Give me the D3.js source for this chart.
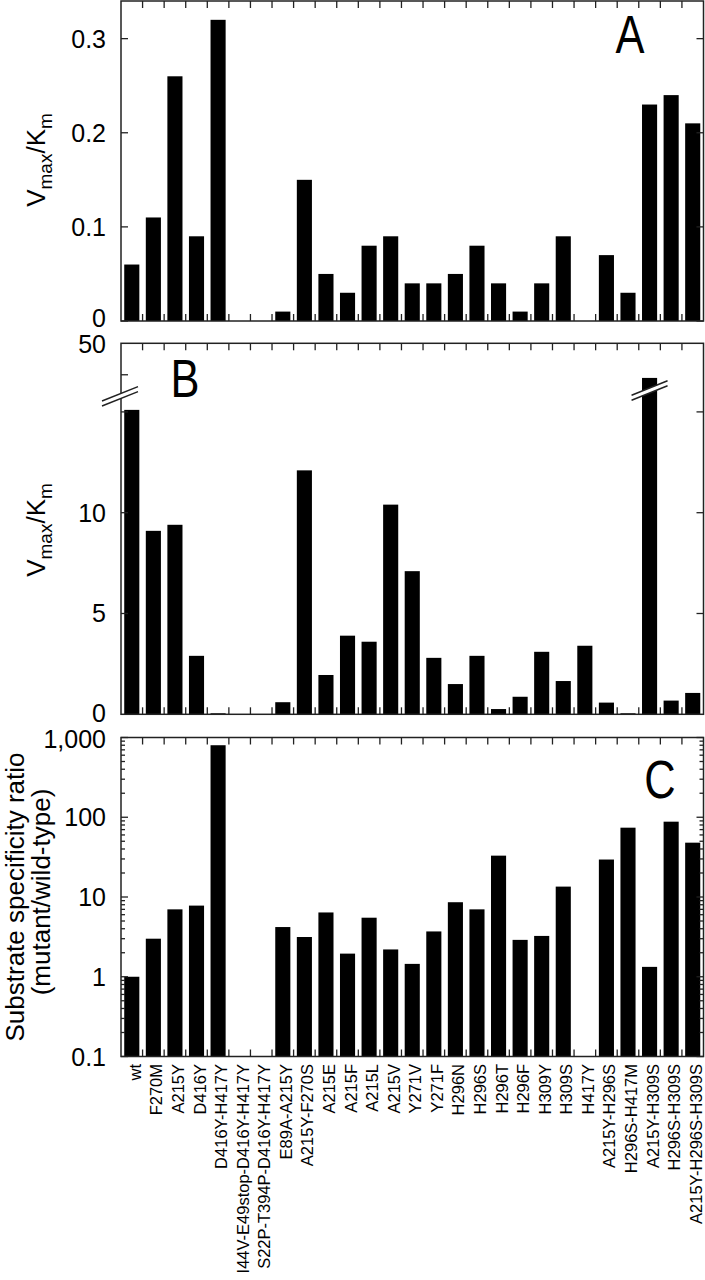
<!DOCTYPE html>
<html>
<head>
<meta charset="utf-8">
<script src="https://cdn.jsdelivr.net/npm/d3@7"></script>
<style>
  html, body { margin: 0; padding: 0; background: #fff; }
  svg { display: block; font-family: "Liberation Sans", Arial, sans-serif; }
</style>
</head>
<body>
<svg id="chart" width="705" height="1280"></svg>
<script>
const categories = ["wt","F270M","A215Y","D416Y","D416Y-H417Y","I44V-E49stop-D416Y-H417Y","S22P-T394P-D416Y-H417Y","E89A-A215Y","A215Y-F270S","A215E","A215F","A215L","A215V","Y271V","Y271F","H296N","H296S","H296T","H296F","H309Y","H309S","H417Y","A215Y-H296S","H296S-H417M","A215Y-H309S","H296S-H309S","A215Y-H296S-H309S"];
const valuesA = [0.06,0.11,0.26,0.09,0.32,null,null,0.01,0.15,0.05,0.03,0.08,0.09,0.04,0.04,0.05,0.08,0.04,0.01,0.04,0.09,null,0.07,0.03,0.23,0.24,0.21];
const valuesB = [15.1,9.1,9.4,2.9,0.05,null,null,0.6,12.1,1.95,3.9,3.6,10.4,7.1,2.8,1.5,2.9,0.26,0.87,3.1,1.65,3.4,0.58,0.05,39,0.68,1.06];
const valuesC = [1.0,3.0,7.0,7.8,800,null,null,4.2,3.15,6.4,1.95,5.5,2.2,1.45,3.7,8.6,7.0,33,2.9,3.25,13.5,null,29.5,74,1.33,88,48];
const ticksA = [0, 0.1, 0.2, 0.3];
const tickLabelsA = ["0", "0.1", "0.2", "0.3"];
const ticksB = [0, 5, 10, 50];
const tickLabelsB = ["0", "5", "10", "50"];
const minorTicksB = [15, 40];
const ticksC = [0.1, 1, 10, 100, 1000];
const tickLabelsC = ["0.1", "1", "10", "100", "1,000"];

const svg = d3.select("#chart");
const X0 = 121, X1 = 703.5;
const x = d3.scaleBand().domain(categories).range([X0, X1]).paddingInner(0.3).paddingOuter(0.15);
const step = x.step();
const frameColor = "#222";

const panels = [
  { key: "A", top: 1, bottom: 321, values: valuesA,
    y: d3.scaleLinear().domain([0, 0.34]).range([321, 1]) },
  { key: "B", top: 343.3, bottom: 714.3, values: valuesB,
    y: d3.scaleLinear().domain([0, 15.6, 33, 50]).range([714.3, 399.8, 396.8, 343.3]) },
  { key: "C", top: 737.5, bottom: 1056.5, values: valuesC,
    y: d3.scaleLog().domain([0.1, 1000]).range([1056.5, 737.5]) }
];

function drawFrame(g, p) {
  g.selectAll("rect.bar").data(categories.map((c, i) => ({c, v: p.values[i]})).filter(d => d.v != null))
    .join("rect").attr("class", "bar")
    .attr("x", d => x(d.c)).attr("width", x.bandwidth())
    .attr("y", d => p.y(d.v)).attr("height", d => p.y.range()[0] - p.y(d.v))
    .attr("fill", "#000");
  const bounds = d3.range(1, categories.length).map(k => X0 + k * step);
  g.selectAll("line.xtb").data(bounds).join("line").attr("class", "xtb")
    .attr("x1", d => d).attr("x2", d => d).attr("y1", p.bottom).attr("y2", p.bottom - 7)
    .attr("stroke", frameColor).attr("stroke-width", 1.3);
  g.selectAll("line.xtt").data(bounds).join("line").attr("class", "xtt")
    .attr("x1", d => d).attr("x2", d => d).attr("y1", p.top).attr("y2", p.top + 7)
    .attr("stroke", frameColor).attr("stroke-width", 1.3);
  g.append("rect").attr("x", X0).attr("y", p.top).attr("width", X1 - X0).attr("height", p.bottom - p.top)
    .attr("fill", "none").attr("stroke", frameColor).attr("stroke-width", 1.5);
}

function yTicks(g, p, vals, labels, bothSides, len, dys) {
  vals.forEach((v, i) => {
    const yy = p.y(v);
    g.append("line").attr("x1", X0).attr("x2", X0 + len).attr("y1", yy).attr("y2", yy)
      .attr("stroke", frameColor).attr("stroke-width", 1.3);
    if (bothSides) g.append("line").attr("x1", X1).attr("x2", X1 - len).attr("y1", yy).attr("y2", yy)
      .attr("stroke", frameColor).attr("stroke-width", 1.3);
    if (labels) g.append("text").attr("x", 106).attr("y", yy + (dys ? dys[i] : 0)).attr("dy", "0.36em")
      .attr("text-anchor", "end").attr("font-size", 25).text(labels[i]);
  });
}

function vmaxTitle(g, cx, cy) {
  const t = g.append("text").attr("transform", `translate(${cx},${cy}) rotate(-90)`)
    .attr("text-anchor", "middle").attr("font-size", 26);
  t.append("tspan").text("V");
  t.append("tspan").attr("font-size", 19).attr("dy", 7).text("max");
  t.append("tspan").attr("dy", -7).text("/K");
  t.append("tspan").attr("font-size", 19).attr("dy", 7).text("m");
}

function panelLetter(g, letter, px, py) {
  g.append("text").attr("transform", `translate(${px},${py}) scale(0.82,1)`)
    .attr("font-size", 53).attr("text-anchor", "middle").text(letter);
}

// Panel A
{
  const p = panels[0];
  const g = svg.append("g");
  drawFrame(g, p);
  yTicks(g, p, ticksA, tickLabelsA, true, 7, [-3, 0, 0, 0]);
  vmaxTitle(g, 45, 160);
  panelLetter(g, "A", 630, 53);
}

// Panel B
{
  const p = panels[1];
  const g = svg.append("g");
  drawFrame(g, p);
  yTicks(g, p, ticksB.slice(1, 3), tickLabelsB.slice(1, 3), true, 7);
  yTicks(g, p, [0], ["0"], false, 0, [-1]);
  yTicks(g, p, [50], ["50"], false, 0, [1]);
  yTicks(g, p, [minorTicksB[0]], null, true, 7);
  yTicks(g, p, [minorTicksB[1]], null, false, 7);
  vmaxTitle(g, 45, 530);
  panelLetter(g, "B", 185, 397);
  function brk(cx, cy, halfW) {
    const dy = 0.4 * halfW, gap = 5;
    g.append("path")
      .attr("d", `M${cx - halfW},${cy + dy - gap / 2} L${cx + halfW},${cy - dy - gap / 2} L${cx + halfW},${cy - dy + gap / 2} L${cx - halfW},${cy + dy + gap / 2} Z`)
      .attr("fill", "#fff");
    [-gap / 2, gap / 2].forEach(o => g.append("line")
      .attr("x1", cx - halfW).attr("y1", cy + dy + o).attr("x2", cx + halfW).attr("y2", cy - dy + o)
      .attr("stroke", frameColor).attr("stroke-width", 1.5));
  }
  brk(X0 - 1, p.y(33) - 0.5, 18);
  const bi = categories.indexOf("A215Y-H309S");
  brk(x(categories[bi]) + x.bandwidth() / 2, p.y(35), 18);
}

// Panel C
{
  const p = panels[2];
  const g = svg.append("g");
  drawFrame(g, p);
  yTicks(g, p, ticksC, tickLabelsC, true, 7, [0, 0, 0, 0, 1]);
  const minors = [];
  for (let e = -1; e < 3; e++) for (let m = 2; m <= 9; m++) minors.push(m * Math.pow(10, e));
  yTicks(g, p, minors, null, true, 4);
  g.append("text").attr("transform", `translate(24,897) rotate(-90)`)
    .attr("text-anchor", "middle").attr("font-size", 26).text("Substrate specificity ratio");
  g.append("text").attr("transform", `translate(50,892) rotate(-90)`)
    .attr("text-anchor", "middle").attr("font-size", 26).text("(mutant/wild-type)");
  panelLetter(g, "C", 660, 798);
  g.selectAll("text.cat").data(categories).join("text").attr("class", "cat")
    .attr("transform", d => `translate(${x(d) + x.bandwidth() / 2 + 9},1064) rotate(-90)`)
    .attr("text-anchor", "end").attr("font-size", 16.5).text(d => d);
}
</script>
</body>
</html>
